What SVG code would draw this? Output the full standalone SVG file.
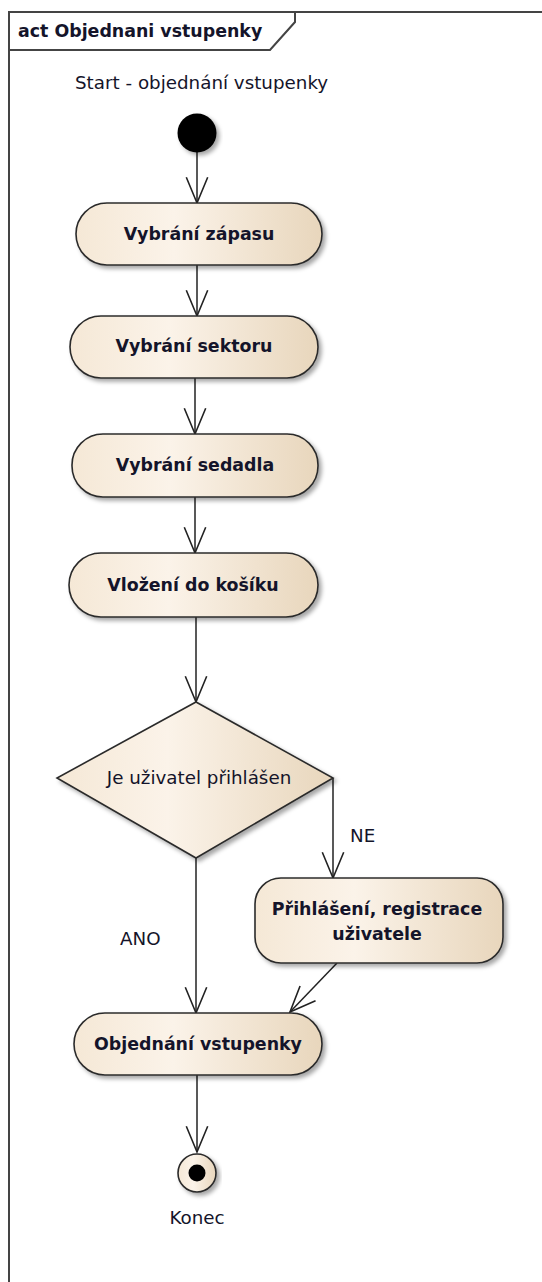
<svg xmlns="http://www.w3.org/2000/svg" width="542" height="1282" viewBox="0 0 542 1282">
  <style>
    .frame { fill: none; stroke: #444; stroke-width: 2; }
    .node { fill: url(#nodeFill); stroke: #2b2b2b; stroke-width: 1.6; filter: url(#shadow); }
    .flow { fill: none; stroke: #222; stroke-width: 1.5; marker-end: url(#open); }
    .bold { font-family: "DejaVu Sans", sans-serif; font-weight: bold; font-size: 17.4px; fill: #14142a; }
    .label { font-family: "DejaVu Sans", sans-serif; font-size: 18.3px; fill: #14142a; }
  </style>
  <defs>
    <linearGradient id="nodeFill" x1="0" y1="0" x2="1" y2="0">
      <stop offset="0" stop-color="#F5E8D6"/>
      <stop offset="0.4" stop-color="#FBF3E9"/>
      <stop offset="1" stop-color="#E8D6BC"/>
    </linearGradient>
    <filter id="shadow" x="-10%" y="-10%" width="125%" height="135%">
      <feDropShadow dx="3" dy="3" stdDeviation="2" flood-color="#000" flood-opacity="0.35"/>
    </filter>
    <marker id="open" markerUnits="userSpaceOnUse" markerWidth="30" markerHeight="26" refX="0" refY="0" viewBox="-26 -12 28 24" orient="auto" overflow="visible">
      <path d="M-24,-10 L0,0 L-24,10" fill="none" stroke="#222" stroke-width="1.5"/>
    </marker>
  </defs>

  <!-- activity frame with name tab -->
  <g id="frame">
    <path class="frame" d="M9,1282 V12 H542"/>
    <path class="frame" d="M9,50 H270 L295,22 V12"/>
    <text class="bold" x="18" y="37">act Objednani vstupenky</text>
  </g>

  <!-- control flows -->
  <g id="connectors">
    <line class="flow" x1="197" y1="152" x2="197" y2="203"/>
    <line class="flow" x1="197" y1="265" x2="197" y2="316"/>
    <line class="flow" x1="195" y1="378" x2="195" y2="434"/>
    <line class="flow" x1="195" y1="497" x2="195" y2="553"/>
    <line class="flow" x1="196" y1="617" x2="196" y2="702"/>
    <line class="flow" x1="333" y1="778" x2="333" y2="878"/>
    <line class="flow" x1="196" y1="858" x2="196" y2="1013"/>
    <line class="flow" x1="337" y1="963" x2="290" y2="1012"/>
    <line class="flow" x1="197" y1="1075" x2="197" y2="1152"/>
    <text class="label" x="350" y="842">NE</text>
    <text class="label" x="120" y="945">ANO</text>
  </g>

  <g id="start">
    <text class="label" x="75" y="89">Start - objednání vstupenky</text>
    <circle cx="197" cy="133" r="19.5" fill="#000" filter="url(#shadow)"/>
  </g>

  <g id="vybrani-zapasu">
    <rect class="node" x="76" y="203" width="246" height="62" rx="31"/>
    <text class="bold" x="199" y="240" text-anchor="middle">Vybrání zápasu</text>
  </g>

  <g id="vybrani-sektoru">
    <rect class="node" x="70" y="316" width="248" height="62" rx="31"/>
    <text class="bold" x="194" y="352" text-anchor="middle">Vybrání sektoru</text>
  </g>

  <g id="vybrani-sedadla">
    <rect class="node" x="72" y="434" width="246" height="63" rx="31"/>
    <text class="bold" x="195" y="471" text-anchor="middle">Vybrání sedadla</text>
  </g>

  <g id="vlozeni-do-kosiku">
    <rect class="node" x="69" y="553" width="249" height="64" rx="32"/>
    <text class="bold" x="193" y="591" text-anchor="middle">Vložení do košíku</text>
  </g>

  <g id="prihlasen-decision">
    <polygon class="node" points="196,702 333,778 196,858 57,778"/>
    <text class="label" x="199" y="784" text-anchor="middle">Je uživatel přihlášen</text>
  </g>

  <g id="prihlaseni-registrace">
    <rect class="node" x="255" y="878" width="248" height="85" rx="26"/>
    <text class="bold" x="377" y="915" text-anchor="middle">Přihlášení, registrace</text>
    <text class="bold" x="377" y="940" text-anchor="middle">uživatele</text>
  </g>

  <g id="objednani-vstupenky">
    <rect class="node" x="74" y="1013" width="248" height="62" rx="31"/>
    <text class="bold" x="198" y="1050" text-anchor="middle">Objednání vstupenky</text>
  </g>

  <g id="konec">
    <circle class="node" cx="197" cy="1173" r="19"/>
    <circle cx="197" cy="1173" r="8.5" fill="#000"/>
    <text class="label" x="197" y="1224" text-anchor="middle">Konec</text>
  </g>
</svg>
